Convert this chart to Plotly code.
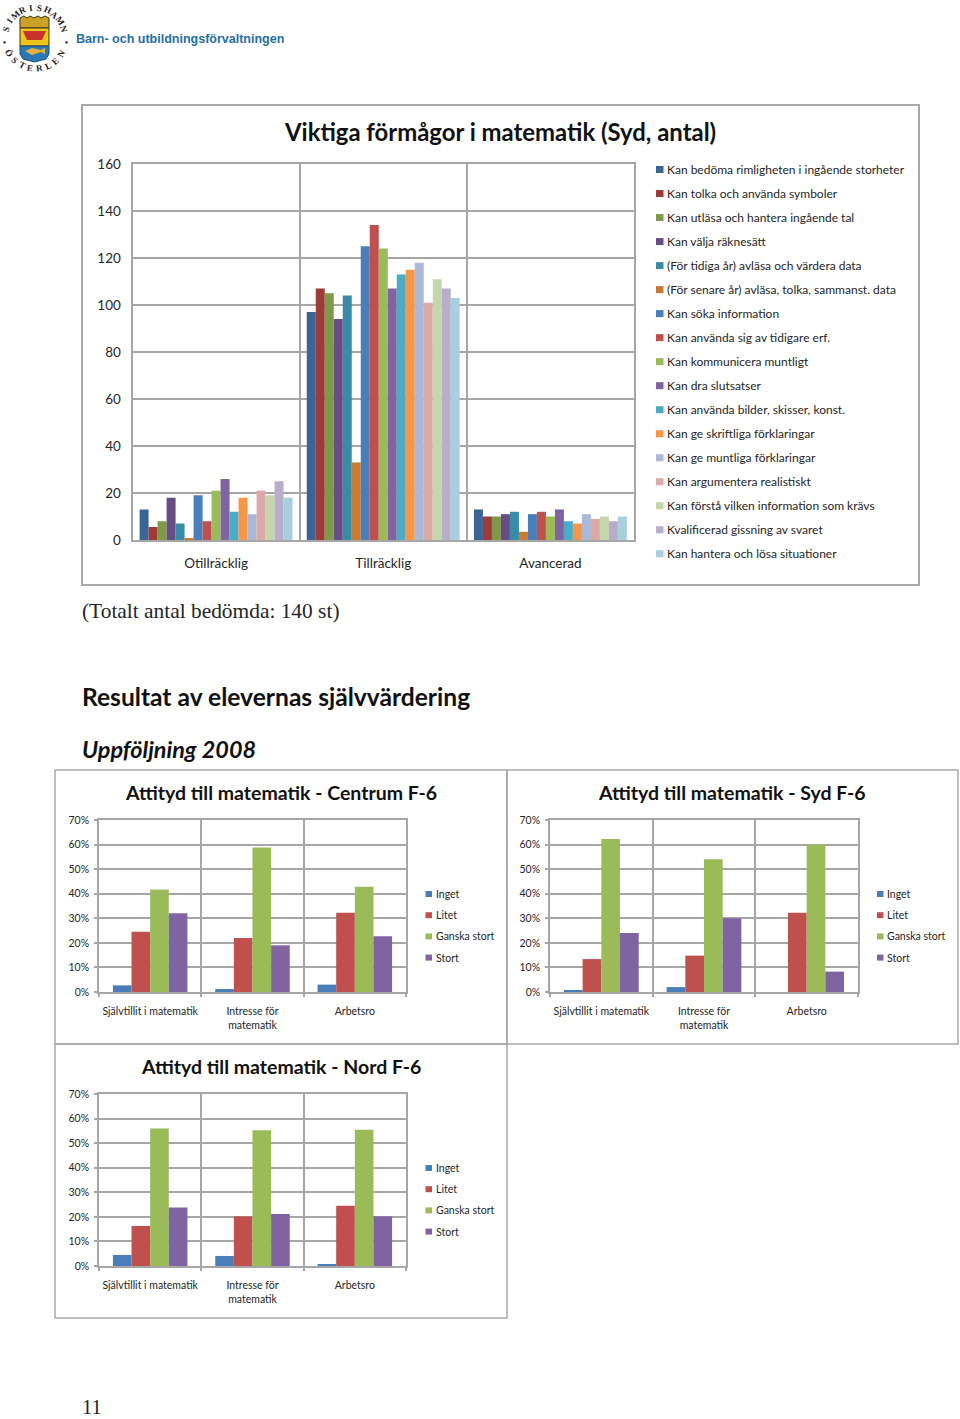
import math
import plotly.graph_objects as go

W, H = 960, 1419

# stor graf: förmågor, antal
nivaer = ["Otillräcklig", "Tillräcklig", "Avancerad"]
formagor = [
    "Kan bedöma rimligheten i ingående storheter",
    "Kan tolka och använda symboler",
    "Kan utläsa och hantera ingående tal",
    "Kan välja räknesätt",
    "(För tidiga år) avläsa och värdera data",
    "(För senare år) avläsa, tolka, sammanst. data",
    "Kan söka information",
    "Kan använda sig av tidigare erf.",
    "Kan kommunicera muntligt",
    "Kan dra slutsatser",
    "Kan använda bilder, skisser, konst.",
    "Kan ge skriftliga förklaringar",
    "Kan ge muntliga förklaringar",
    "Kan argumentera realistiskt",
    "Kan förstå vilken information som krävs",
    "Kvalificerad gissning av svaret",
    "Kan hantera och lösa situationer",
]
otillracklig = [13, 5.5, 8, 18, 7, 0.5, 19, 8, 21, 26, 12, 18, 11, 21, 19, 25, 18]
tillracklig = [97, 107, 105, 94, 104, 33, 125, 134, 124, 107, 113, 115, 118, 101, 111, 107, 103]
avancerad = [13, 10, 10, 11, 12, 3.5, 11, 12, 10, 13, 8, 7, 11, 9, 10, 8, 10]
formaga_farger = [
    "#3c6594", "#9e3b39", "#7e9a48", "#664d85", "#388ca6", "#c97a33",
    "#4a7ebb", "#c0504d", "#9bbb59", "#8064a2", "#4bacc6", "#f79646",
    "#aab9d8", "#dca9a8", "#c6d6ab", "#b8aecb", "#a8cfde",
]
y_ticks_antal = [0, 20, 40, 60, 80, 100, 120, 140, 160]

# små grafer: attityd, procent
attityd_kat = ["Självtillit i matematik", "Intresse för<br>matematik", "Arbetsro"]
svar = ["Inget", "Litet", "Ganska stort", "Stort"]
svar_farger = ["#4a7ebb", "#c0504d", "#9bbb59", "#8064a2"]
centrum = [[2.7, 1.2, 3.0], [24.5, 22.0, 32.3], [41.7, 58.8, 42.8], [32.0, 19.0, 22.7]]
syd = [[0.8, 2.0, 0.0], [13.4, 14.8, 32.3], [62.3, 54.0, 60.0], [24.0, 30.0, 8.3]]
nord = [[4.5, 4.1, 0.5], [16.3, 20.2, 24.5], [56.0, 55.2, 55.5], [23.8, 21.2, 20.2]]
y_ticks_pct = [0, 10, 20, 30, 40, 50, 60, 70]

GRID = "#a6a6a6"
FRAME = "#a9a9a9"
TXT = "#262626"
SANS = "Lato"


def px(x):
    return x / W


def py(y):
    return 1 - y / H


fig = go.Figure()
shapes = []
annotations = []


def text(x, y, s, size, color=TXT, family=SANS, anchor="left", angle=0):
    annotations.append(dict(
        x=px(x), y=py(y), xref="paper", yref="paper", text=s, showarrow=False,
        xanchor=anchor, yanchor="middle", textangle=angle, borderpad=0,
        font=dict(size=size, color=color, family=family),
    ))


def rect(x0, y0, x1, y1, line=None, fill=None, width=2):
    shapes.append(dict(
        type="rect", xref="paper", yref="paper", layer="below",
        x0=px(x0), x1=px(x1), y0=py(y0), y1=py(y1),
        line=dict(color=line, width=width if line else 0), fillcolor=fill,
    ))


def path(points, fill, line=None, width=1):
    d = "M " + " L ".join(f"{px(a):.5f},{py(b):.5f}" for a, b in points) + " Z"
    shapes.append(dict(type="path", xref="paper", yref="paper", layer="above", path=d,
                       fillcolor=fill, line=dict(color=line, width=width if line else 0)))


def axes(n, box, ymax, ticks, suffix, size, gw, ticklen, xoff, yoff):
    x0, y0, x1, y1 = box
    fig.layout[f"xaxis{n}"] = dict(
        domain=[px(x0), px(x1)], anchor=f"y{n}", type="category", tickson="boundaries",
        showgrid=True, gridcolor=GRID, gridwidth=gw, showline=True, linecolor=GRID, linewidth=gw,
        ticks="outside", ticklen=ticklen, tickcolor=GRID, tickwidth=gw,
        ticklabelstandoff=xoff, tickangle=0,
        tickfont=dict(size=size, color=TXT, family=SANS), mirror=True,
    )
    fig.layout[f"yaxis{n}"] = dict(
        domain=[py(y1), py(y0)], anchor=f"x{n}", range=[0, ymax], tickmode="array",
        tickvals=ticks, ticktext=[f"{t}{suffix}" for t in ticks],
        showgrid=True, gridcolor=GRID, gridwidth=gw, showline=True, linecolor=GRID, linewidth=gw,
        ticks="outside", ticklen=ticklen, tickcolor=GRID, tickwidth=gw,
        ticklabelstandoff=yoff, zeroline=False, mirror=True,
        tickfont=dict(size=size, color=TXT, family=SANS),
    )


# stor graf
rect(82, 105, 919, 585, line=FRAME)
for i, namn in enumerate(formagor):
    fig.add_trace(go.Bar(
        x=nivaer, y=[otillracklig[i], tillracklig[i], avancerad[i]], name=namn,
        marker=dict(color=formaga_farger[i], line=dict(width=0)),
        xaxis="x", yaxis="y", showlegend=False,
    ))
    ly = 170 + i * 24.02
    rect(656, ly - 4, 663.5, ly + 3, fill=formaga_farger[i])
    text(666, ly - 0.5, namn, 12)
axes("", (132.5, 164, 634, 540), 160, y_ticks_antal, "", 13.5, 2, 0, 10, 7)
text(500, 132, "<b>Viktiga förmågor i matematik (Syd, antal)</b>", 23.9, color="#111111", anchor="center")

# små grafer
charts = [
    ("2", centrum, (99, 820, 406, 992), (55, 770, 507, 1044), "Attityd till matematik - Centrum F-6", 281, 425.5),
    ("3", syd, (550, 820, 858, 992), (507, 770, 958, 1044), "Attityd till matematik - Syd F-6", 732, 877),
    ("4", nord, (99, 1094, 406, 1266), (55, 1044, 507, 1318), "Attityd till matematik - Nord F-6", 281, 425.5),
]
for n, serier, box, ram, titel, tx, lx in charts:
    rect(*ram, line=FRAME, width=1.5)
    for namn, farg, varden in zip(svar, svar_farger, serier):
        fig.add_trace(go.Bar(
            x=attityd_kat, y=varden, name=namn, marker=dict(color=farg, line=dict(width=0)),
            xaxis=f"x{n}", yaxis=f"y{n}", showlegend=False,
        ))
    axes(n, box, 70, y_ticks_pct, "%", 10.5, 1.5, 3, 9, 3)
    text(tx, ram[1] + 22, f"<b>{titel}</b>", 19.5, color="#111111", anchor="center")
    for j, namn in enumerate(svar):
        ly = box[1] + 74 + j * 21.2
        rect(lx, ly - 3, lx + 6.5, ly + 3, fill=svar_farger[j])
        text(lx + 9, ly, namn, 10.5)

# rubriker på sidan
text(81, 611, "(Totalt antal bedömda: 140 st)", 21.4, family="Liberation Serif")
text(81, 696, "<b>Resultat av elevernas självvärdering</b>", 24.6, color="#111111")
text(81, 749, "<b><i>Uppföljning 2008</i></b>", 23.4, color="#111111")
text(81, 1407, "11", 20.5, family="Liberation Serif")
text(75, 39, "<b>Barn- och utbildningsförvaltningen</b>", 12.5, color="#1f6fa8", family="Liberation Sans")

# logotyp
LOGO_CX, LOGO_CY, LOGO_R = 35, 38, 30.5
for s, start, step, bottom in (("SIMRISHAMN", -72, 16, False), ("ÖSTERLEN", -60, 17, True)):
    for k, bokstav in enumerate(s):
        a = start + k * step
        r = math.radians(a)
        if bottom:
            lx, ly = LOGO_CX + LOGO_R * math.sin(r), LOGO_CY + LOGO_R * math.cos(r)
            rot = -a
        else:
            lx, ly = LOGO_CX + LOGO_R * math.sin(r), LOGO_CY - LOGO_R * math.cos(r)
            rot = a
        text(lx, ly, f"<b>{bokstav}</b>", 9, color="#222222", family="Liberation Serif", anchor="center", angle=rot)
text(4.5, 42, "●", 5, color="#222222", anchor="center")
text(66, 42, "●", 5, color="#222222", anchor="center")

path([(20, 18), (24, 16), (27, 18), (30, 16), (34, 18), (38, 16), (41, 18), (45, 16), (49, 18), (49, 28), (20, 28)],
     "#c9a227", "#3a3320")
path([(20, 28), (49, 28), (49, 46), (20, 46)], "#f0c419", "#3a3320")
path([(23, 31), (46, 31), (42, 40), (27, 40)], "#c8322b")
path([(20, 46), (49, 46), (49, 54), (46, 59), (34.5, 62), (23, 59), (20, 54)], "#2a78b5", "#1d4f7a")
path([(25, 51), (32, 48), (41, 50), (45, 48), (45, 54), (41, 52), (32, 55)], "#e3b23c")

fig.update_layout(
    width=W, height=H, margin=dict(l=0, r=0, t=0, b=0, autoexpand=False), autosize=False,
    paper_bgcolor="white", plot_bgcolor="rgba(0,0,0,0)",
    barmode="group", bargap=0.085, bargroupgap=0,
    shapes=shapes, annotations=annotations,
)
# de små graferna har större glapp, plotly har bara ett bargap per figur
for tr in fig.data:
    if tr.xaxis != "x":
        tr.width = 0.182
        tr.offset = -0.364 + svar.index(tr.name) * 0.182

fig.write_html("out.html", config={"displayModeBar": False},
               post_script="document.body.style.margin='0';")
